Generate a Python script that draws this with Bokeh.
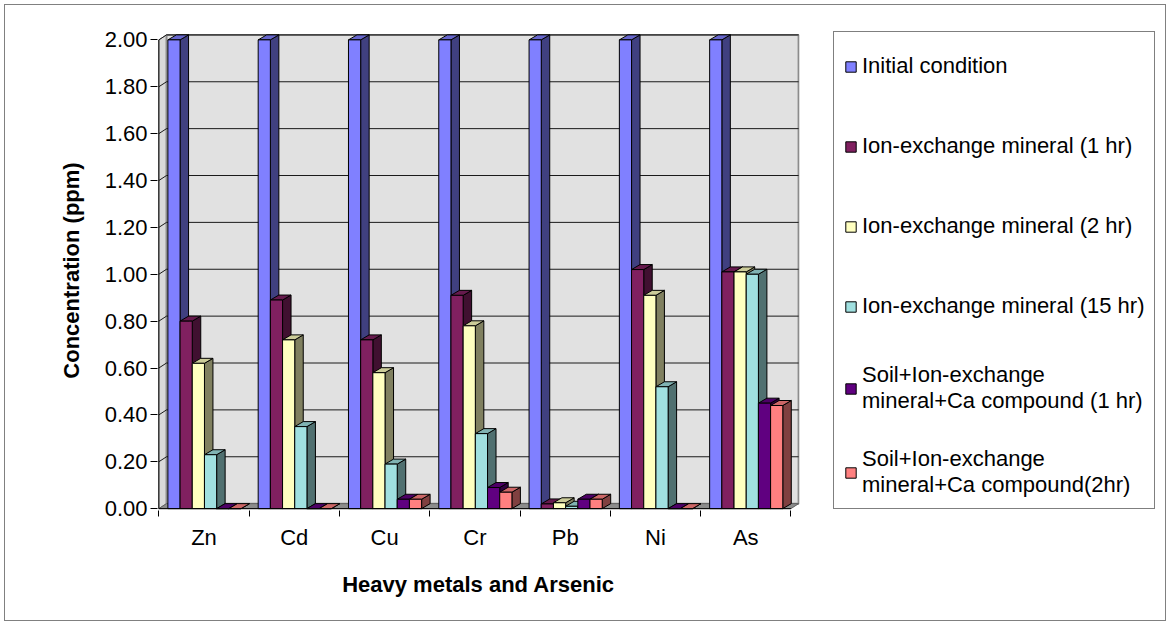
import numpy as np
from bokeh.plotting import figure
from bokeh.layouts import row
from bokeh.models import FixedTicker, NumeralTickFormatter, Legend, LegendItem, Range1d
from bokeh.embed import file_html
from bokeh.resources import INLINE

# ---------------- data ----------------
metals = ["Zn", "Cd", "Cu", "Cr", "Pb", "Ni", "As"]
series_names = [
    "Initial condition",
    "Ion-exchange mineral (1 hr)",
    "Ion-exchange mineral (2 hr)",
    "Ion-exchange mineral (15 hr)",
    "Soil+Ion-exchange\nmineral+Ca compound (1 hr)",
    "Soil+Ion-exchange\nmineral+Ca compound(2hr)",
]
initial_condition = [2.00, 2.00, 2.00, 2.00, 2.00, 2.00, 2.00]
ion_exchange_1hr = [0.80, 0.89, 0.72, 0.91, 0.02, 1.02, 1.01]
ion_exchange_2hr = [0.62, 0.72, 0.58, 0.78, 0.025, 0.91, 1.01]
ion_exchange_15hr = [0.23, 0.35, 0.19, 0.32, 0.01, 0.52, 1.00]
soil_ca_1hr = [0.00, 0.00, 0.04, 0.09, 0.04, 0.00, 0.45]
soil_ca_2hr = [0.00, 0.00, 0.04, 0.07, 0.04, 0.00, 0.44]
y_ticks = [0.0, 0.2, 0.4, 0.6, 0.8, 1.0, 1.2, 1.4, 1.6, 1.8, 2.0]

all_series = [initial_condition, ion_exchange_1hr, ion_exchange_2hr,
              ion_exchange_15hr, soil_ca_1hr, soil_ca_2hr]

# ---------------- styles ----------------
front_colors = ["#8080FF", "#802060", "#FFFFC0", "#A0E0E0", "#600080", "#FF8080"]
side_colors = ["#404080", "#401030", "#808060", "#507070", "#300040", "#804040"]
top_colors = ["#6666CC", "#661A4D", "#CCCC99", "#80B3B3", "#4D0066", "#CC6666"]

FONT = "Liberation Sans"
BAR_W = 0.135     # bar width (category units)
BAR_OFF = 0.10    # offset of first bar in a category
BDX, BDY = 0.094, 0.0213   # bar depth offsets
WDX, WDY = 0.085, 0.0213   # wall depth offsets

n_cat = len(metals)
y_max = max(y_ticks)
cat_idx = np.arange(n_cat)

p = figure(width=820, height=615,
           x_range=Range1d(-0.015, 7.095), y_range=Range1d(-0.008, 2.04),
           output_backend="svg", toolbar_location=None,
           min_border_left=152, min_border_right=26,
           min_border_top=25, min_border_bottom=110)
p.outline_line_color = None
p.xgrid.visible = False
p.ygrid.visible = False
p.background_fill_color = "white"
p.border_fill_color = "white"

# ---------------- walls ----------------
p.patch([0, 0, WDX, WDX], [0, y_max, y_max + WDY, WDY],
        fill_color="#D9D9D9", line_color="#808080", line_width=1)
p.quad(left=[WDX], right=[n_cat + WDX], bottom=[WDY], top=[y_max + WDY],
       fill_color="#E1E1E1", line_color="#8C8C8C", line_width=2)
p.patch([0, n_cat, n_cat + WDX, WDX], [0, 0, WDY, WDY],
        fill_color="#8C8C8C", line_color="#606060", line_width=1)

gy = np.array(y_ticks[1:])
p.segment(x0=[WDX] * len(gy), y0=gy + WDY, x1=[n_cat + WDX] * len(gy), y1=gy + WDY,
          line_color="#1A1A1A", line_width=1)
p.segment(x0=[0] * len(gy), y0=gy, x1=[WDX] * len(gy), y1=gy + WDY,
          line_color="#1A1A1A", line_width=1)

# ---------------- bars ----------------
for j, vals in enumerate(all_series):
    v = np.array(vals, dtype=float)
    x0 = cat_idx + BAR_OFF + j * BAR_W
    x1 = x0 + BAR_W
    side_xs = [[a, a, a + BDX, a + BDX] for a in x1]
    side_ys = [[0, t, t + BDY, BDY] for t in v]
    p.patches(side_xs, side_ys, fill_color=side_colors[j], line_color="black", line_width=1)
    top_xs = [[a, b, b + BDX, a + BDX] for a, b in zip(x0, x1)]
    top_ys = [[t, t, t + BDY, t + BDY] for t in v]
    p.patches(top_xs, top_ys, fill_color=top_colors[j], line_color="black", line_width=1)
    p.quad(left=x0, right=x1, bottom=np.zeros(n_cat), top=v,
           fill_color=front_colors[j], line_color="black", line_width=1)

p.segment(x0=[0], y0=[0], x1=[0], y1=[y_max], line_color="black", line_width=1)
p.segment(x0=[0], y0=[0], x1=[n_cat], y1=[0], line_color="black", line_width=1)

# ---------------- axes ----------------
yax = p.yaxis[0]
yax.ticker = FixedTicker(ticks=y_ticks)
yax.formatter = NumeralTickFormatter(format="0.00")
yax.axis_line_color = None
yax.major_tick_out = 7
yax.major_tick_in = 0
yax.minor_tick_line_color = None
yax.major_tick_line_color = "black"
yax.major_label_standoff = 3
yax.major_label_text_font = FONT
yax.major_label_text_font_size = "22px"
yax.major_label_text_color = "black"
yax.axis_label = "Concentration (ppm)"
yax.axis_label_text_font = FONT
yax.axis_label_text_font_size = "22px"
yax.axis_label_text_font_style = "bold"
yax.axis_label_text_color = "black"
yax.axis_label_standoff = 18

xax = p.xaxis[0]
centers = [i + 0.5 for i in range(n_cat)]
xax.ticker = FixedTicker(ticks=centers, minor_ticks=list(range(n_cat + 1)))
xax.major_label_overrides = {c: m for c, m in zip(centers, metals)}
xax.axis_line_color = None
xax.major_tick_line_color = None
xax.major_tick_out = 6
xax.major_tick_in = 0
xax.minor_tick_line_color = "black"
xax.minor_tick_out = 6
xax.minor_tick_in = 0
xax.major_label_standoff = 8
xax.major_label_text_font = FONT
xax.major_label_text_font_size = "22px"
xax.major_label_text_color = "black"
xax.axis_label = "Heavy metals and Arsenic"
xax.axis_label_text_font = FONT
xax.axis_label_text_font_size = "22px"
xax.axis_label_text_font_style = "bold"
xax.axis_label_text_color = "black"
xax.axis_label_standoff = 19

# ---------------- legend (separate panel) ----------------
pl = figure(width=340, height=615, x_range=Range1d(0, 1), y_range=Range1d(0, 1),
            x_axis_type=None, y_axis_type=None,
            output_backend="svg", toolbar_location=None,
            min_border_left=0, min_border_right=0, min_border_top=0, min_border_bottom=0)
pl.outline_line_color = None
pl.xgrid.visible = False
pl.ygrid.visible = False
pl.background_fill_color = "white"
pl.border_fill_color = "white"

# proxy renderers (same series, drawn outside the visible range) for the legend keys
legend_items = []
for j, vals in enumerate(all_series):
    lx = cat_idx + 2.0
    r = pl.quad(left=lx, right=lx + BAR_W, bottom=np.zeros(n_cat), top=np.array(vals),
                fill_color=front_colors[j], line_color="black", line_width=1)
    legend_items.append(LegendItem(label=series_names[j], renderers=[r]))

legend = Legend(items=legend_items, location=(8, 1),
                padding=10, spacing=32, label_height=48,
                glyph_width=13, glyph_height=13, label_standoff=5,
                label_text_font=FONT, label_text_font_size="22px",
                label_text_line_height=1.1, label_text_color="black",
                border_line_color="black", border_line_width=1,
                background_fill_color="white", background_fill_alpha=1.0,
                margin=0)
pl.add_layout(legend, "center")

layout = row(p, pl, spacing=0)
layout.styles = {"border": "1px solid #808080",
                 "margin-left": "4px", "margin-top": "4px"}

open("out.html", "w").write(file_html(layout, INLINE))
